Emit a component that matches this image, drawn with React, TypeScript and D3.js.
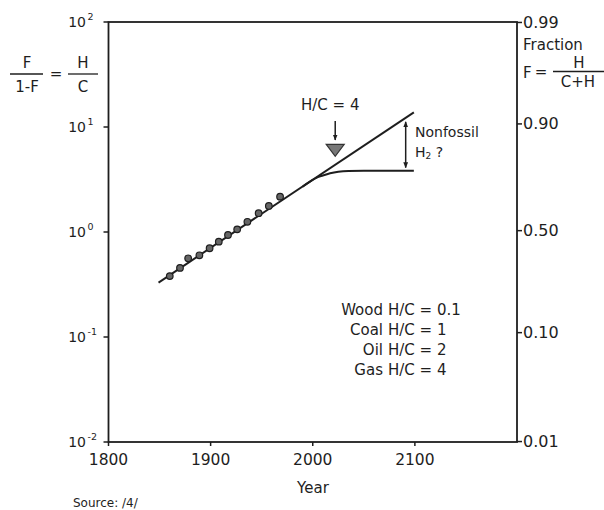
import React from "react";
import * as d3 from "d3";

// Historical H/C data points
const histYears = [1860, 1870, 1878, 1889, 1899, 1908, 1917, 1926, 1936, 1947, 1957, 1968];
const histHC = [0.38, 0.455, 0.562, 0.6, 0.7, 0.809, 0.936, 1.06, 1.25, 1.51, 1.77, 2.17];

// Straight trend line
const trendYears = [1849, 2099];
const trendHC = [0.33, 13.8];

// Saturating curve (gas, H/C = 4)
const satYears = [1990, 1998, 2004, 2010, 2017, 2025, 2035, 2050, 2099];
const satHC = [2.7, 3.05, 3.3, 3.45, 3.62, 3.75, 3.82, 3.84, 3.84];

// Annotations
const markerYear = 2022;
const markerHC = 6.0;
const gapYear = 2091;
const gapTopHC = 11.2;
const gapBottomHC = 4.1;

// Axes
const xTicks = [1800, 1900, 2000, 2100];
const leftTicksExp = [2, 1, 0, -1, -2];
const leftSup = ["2", "1", "0", "-1", "-2"];
const rightTickLabels = ["0.99", "0.90", "0.50", "0.10", "0.01"];
const rightTickAt = [99, 10.7, 1.03, 0.11, 0.0101];

const legendLabels = ["Wood", "Coal", "Oil", "Gas"];
const legendHC = ["0.1", "1", "2", "4"];

export default function App() {
  const W = 604, H = 510;
  const x = d3.scaleLinear().domain([1800, 2200]).range([108.5, 517]);
  const y = d3.scaleLog().domain([0.01, 100]).range([442, 22]);
  const font = "'DejaVu Sans', sans-serif";
  const ink = "#1e1e1e";

  const line = d3
    .line<[number, number]>()
    .x((d) => x(d[0]))
    .y((d) => y(d[1]));
  const curve = d3
    .line<[number, number]>()
    .x((d) => x(d[0]))
    .y((d) => y(d[1]))
    .curve(d3.curveMonotoneX);

  const trend = trendYears.map((t, i) => [t, trendHC[i]] as [number, number]);
  const sat = satYears.map((t, i) => [t, satHC[i]] as [number, number]);

  const [x0, x1] = x.range();
  const [yb, yt] = y.range();

  const mx = x(markerYear);
  const my = y(markerHC);
  const gx = x(gapYear);

  return (
    <svg
      width={W}
      height={H}
      style={{ position: "absolute", left: 0, top: 0, background: "#fff" }}
      fontFamily={font}
    >
      <defs>
        <marker id="ah" viewBox="0 0 10 10" refX="9" refY="5" markerWidth="6" markerHeight="6" orient="auto-start-reverse" markerUnits="userSpaceOnUse">
          <path d="M0,1 L10,5 L0,9 Z" fill={ink} />
        </marker>
      </defs>
      <rect width={W} height={H} fill="#fff" />

      {/* frame */}
      <rect x={x0} y={yt} width={x1 - x0} height={yb - yt} fill="none" stroke={ink} strokeWidth={1.8} />

      {/* left axis ticks */}
      {leftTicksExp.map((e, i) => {
        const yy = y(Math.pow(10, e));
        return (
          <g key={"l" + e}>
            <line x1={x0 - 5} x2={x0} y1={yy} y2={yy} stroke={ink} strokeWidth={1.5} />
            <text x={86} y={yy + 5} textAnchor="end" fontSize={14} fill={ink}>10</text>
            <text x={87.5} y={yy - 2} textAnchor="start" fontSize={9.5} fill={ink}>{leftSup[i]}</text>
          </g>
        );
      })}

      {/* right axis ticks */}
      {rightTickLabels.map((lab, i) => {
        const yy = y(rightTickAt[i]);
        return (
          <g key={"r" + lab}>
            <line x1={x1} x2={x1 + 5} y1={yy} y2={yy} stroke={ink} strokeWidth={1.5} />
            <text x={x1 + 6} y={yy} dominantBaseline="central" fontSize={16} fill={ink}>{lab}</text>
          </g>
        );
      })}

      {/* bottom ticks */}
      {xTicks.map((t) => (
        <g key={"x" + t}>
          <line x1={x(t)} x2={x(t)} y1={yb} y2={yb + 4} stroke={ink} strokeWidth={1.5} />
          <text x={x(t)} y={460} textAnchor="middle" dominantBaseline="central" fontSize={15.5} fill={ink}>{t}</text>
        </g>
      ))}
      <text x={313} y={488} textAnchor="middle" dominantBaseline="central" fontSize={15} fill={ink}>Year</text>
      <text x={73} y={503} dominantBaseline="central" fontSize={12} fill={ink}>Source: /4/</text>

      {/* left axis title: F/(1-F) = H/C */}
      <g fill={ink} fontSize={15}>
        <text x={27} y={63} textAnchor="middle" dominantBaseline="central">F</text>
        <line x1={10} x2={43} y1={74} y2={74} stroke={ink} strokeWidth={1.3} />
        <text x={27} y={86.5} textAnchor="middle" dominantBaseline="central">1-F</text>
        <text x={56} y={74} textAnchor="middle" dominantBaseline="central">=</text>
        <text x={83} y={63} textAnchor="middle" dominantBaseline="central">H</text>
        <line x1={68} x2={98} y1={74} y2={74} stroke={ink} strokeWidth={1.3} />
        <text x={83} y={86.5} textAnchor="middle" dominantBaseline="central">C</text>
      </g>

      {/* right axis title */}
      <g fill={ink} fontSize={15}>
        <text x={523} y={45} dominantBaseline="central">Fraction</text>
        <text x={523} y={73} dominantBaseline="central">F</text>
        <text x={541} y={72} textAnchor="middle" dominantBaseline="central">=</text>
        <text x={579} y={63} textAnchor="middle" dominantBaseline="central">H</text>
        <line x1={553} x2={604} y1={71.5} y2={71.5} stroke={ink} strokeWidth={1.3} />
        <text x={578} y={82} textAnchor="middle" dominantBaseline="central">C+H</text>
      </g>

      {/* trend line and saturating curve */}
      <path d={line(trend) || ""} fill="none" stroke={ink} strokeWidth={2} />
      <path d={curve(sat) || ""} fill="none" stroke={ink} strokeWidth={2} />

      {/* historical data points */}
      {histYears.map((t, i) => (
        <circle key={t} cx={x(t)} cy={y(histHC[i])} r={3.3} fill="#666" stroke={ink} strokeWidth={1.2} />
      ))}

      {/* H/C = 4 marker */}
      <text x={mx - 5} y={105} textAnchor="middle" dominantBaseline="central" fontSize={15} fill={ink}>H/C = 4</text>
      <line x1={mx} x2={mx} y1={121} y2={140} stroke={ink} strokeWidth={1.5} markerEnd="url(#ah)" />
      <path d={`M${mx - 9},${my - 6} L${mx + 9},${my - 6} L${mx},${my + 6} Z`} fill="#777" stroke="#333" strokeWidth={1.2} />

      {/* double arrow: nonfossil H2 gap */}
      <line x1={gx} x2={gx} y1={y(gapTopHC)} y2={y(gapBottomHC)} stroke={ink} strokeWidth={1.5} markerStart="url(#ah)" markerEnd="url(#ah)" />
      <text x={415} y={132} dominantBaseline="central" fontSize={14} fill={ink}>Nonfossil</text>
      <text x={415} y={152} dominantBaseline="central" fontSize={14} fill={ink}>
        H<tspan fontSize={9} dy={4}>2</tspan><tspan dy={-4}> ?</tspan>
      </text>

      {/* legend of H/C ratios */}
      {legendLabels.map((lab, i) => (
        <g key={lab} fontSize={15} fill={ink}>
          <text x={383} y={310 + i * 20} textAnchor="end" dominantBaseline="central">{lab}</text>
          <text x={388} y={310 + i * 20} dominantBaseline="central">{`H/C = ${legendHC[i]}`}</text>
        </g>
      ))}
    </svg>
  );
}
